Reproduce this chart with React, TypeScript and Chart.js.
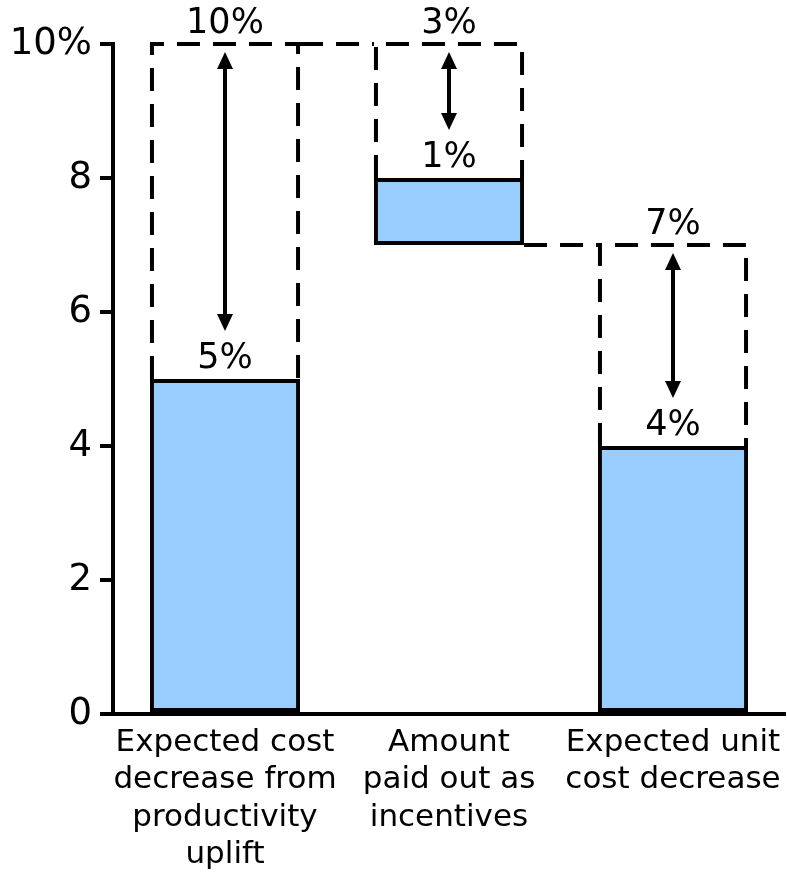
import React, { useEffect, useRef } from "react";
import { Chart, registerables } from "chart.js";

Chart.register(...registerables);

// Category labels (one entry per line)
const categories: string[][] = [
  ["Expected cost", "decrease from", "productivity", "uplift"],
  ["Amount", "paid out as", "incentives"],
  ["Expected unit", "cost decrease"],
];

// Solid bars: base and top values (%)
const barBase = [0, 7, 0];
const barTop = [5, 8, 4];
// Dashed outline top for each bar (%)
const boxTop = [10, 10, 7];
// Dashed connector levels between neighbouring bars
const connectorLevels = [10, 7];

const yTicks = [0, 2, 4, 6, 8, 10];

const FONT = "'DejaVu Sans', Verdana, sans-serif";
const FILL = "#99CCFF";
const LINE_W = 4;

const fmtPct = (v: number) => `${Math.round(v)}%`;

const overlayPlugin = {
  id: "waterfallOverlay",
  afterDatasetsDraw(chart: any) {
    const ctx: CanvasRenderingContext2D = chart.ctx;
    const y = chart.scales.y;
    const meta = chart.getDatasetMeta(0);
    const bars = meta.data;

    ctx.save();
    ctx.strokeStyle = "#000";
    ctx.fillStyle = "#000";
    ctx.lineWidth = LINE_W;
    ctx.lineCap = "butt";

    // Dashed outlines above each solid bar
    ctx.setLineDash([23, 13]);
    bars.forEach((bar: any, i: number) => {
      const left = bar.x - bar.width / 2 + LINE_W / 2;
      const right = bar.x + bar.width / 2 - LINE_W / 2;
      const yTopPx = y.getPixelForValue(boxTop[i]);
      const yBotPx = y.getPixelForValue(barTop[i]);
      ctx.beginPath();
      ctx.moveTo(left, yBotPx);
      ctx.lineTo(left, yTopPx);
      ctx.lineTo(right, yTopPx);
      ctx.lineTo(right, yBotPx);
      ctx.stroke();
    });

    // Dashed connectors between bars
    connectorLevels.forEach((lvl, i) => {
      const a = bars[i];
      const b = bars[i + 1];
      const py = y.getPixelForValue(lvl);
      ctx.beginPath();
      ctx.moveTo(a.x + a.width / 2, py);
      ctx.lineTo(b.x - b.width / 2, py);
      ctx.stroke();
    });
    ctx.setLineDash([]);

    // Double-headed arrows inside the dashed outlines
    const headLen = 17;
    const headHalf = 8;
    bars.forEach((bar: any, i: number) => {
      const x = bar.x;
      const y1 = y.getPixelForValue(boxTop[i]) + 8;
      const y2 = y.getPixelForValue(barTop[i]) - 48;
      ctx.beginPath();
      ctx.moveTo(x, y1 + headLen - 2);
      ctx.lineTo(x, y2 - headLen + 2);
      ctx.stroke();
      ctx.beginPath();
      ctx.moveTo(x, y1);
      ctx.lineTo(x - headHalf, y1 + headLen);
      ctx.lineTo(x + headHalf, y1 + headLen);
      ctx.closePath();
      ctx.fill();
      ctx.beginPath();
      ctx.moveTo(x, y2);
      ctx.lineTo(x - headHalf, y2 - headLen);
      ctx.lineTo(x + headHalf, y2 - headLen);
      ctx.closePath();
      ctx.fill();
    });

    // Value labels
    ctx.font = `35px ${FONT}`;
    ctx.textAlign = "center";
    ctx.textBaseline = "alphabetic";
    bars.forEach((bar: any, i: number) => {
      ctx.fillText(fmtPct(boxTop[i] - barBase[i]), bar.x, y.getPixelForValue(boxTop[i]) - 11);
      ctx.fillText(fmtPct(barTop[i] - barBase[i]), bar.x, y.getPixelForValue(barTop[i]) - 11);
    });

    ctx.restore();
  },
};

export default function App() {
  const canvasRef = useRef<HTMLCanvasElement | null>(null);

  useEffect(() => {
    if (!canvasRef.current) return;
    const chart = new Chart(canvasRef.current, {
      type: "bar",
      data: {
        labels: categories,
        datasets: [
          {
            data: barBase.map((b, i) => [b, barTop[i]]) as any,
            backgroundColor: FILL,
            borderColor: "#000",
            borderWidth: LINE_W,
            borderSkipped: false,
            barPercentage: 0.67,
            categoryPercentage: 1,
          },
        ],
      },
      options: {
        animation: false,
        responsive: true,
        maintainAspectRatio: false,
        layout: { padding: { top: 44, right: 2, bottom: 0, left: 0 } },
        plugins: {
          legend: { display: false },
          tooltip: { enabled: false },
        },
        scales: {
          x: {
            offset: true,
            grid: { display: true, drawOnChartArea: false, drawTicks: false },
            border: { display: true, color: "#000", width: LINE_W },
            ticks: {
              color: "#000",
              padding: 10,
              maxRotation: 0,
              autoSkip: false,
              font: { family: FONT, size: 31, lineHeight: 1.21 },
            },
            afterFit: (s: any) => {
              s.height = 163;
              s.paddingLeft = 0;
              s.paddingRight = 0;
            },
          },
          y: {
            min: 0,
            max: 10,
            afterBuildTicks: (s: any) => {
              s.ticks = yTicks.map((v) => ({ value: v }));
            },
            grid: {
              drawOnChartArea: false,
              drawTicks: true,
              tickLength: 13,
              color: "#000",
              lineWidth: LINE_W,
            },
            border: { display: true, color: "#000", width: LINE_W },
            ticks: {
              color: "#000",
              padding: 8,
              font: { family: FONT, size: 37 },
              callback: (v: any) => (Number(v) === 10 ? "10%" : String(v)),
            },
            afterFit: (s: any) => {
              s.width = 113;
            },
          },
        },
      },
      plugins: [overlayPlugin],
    });
    return () => chart.destroy();
  }, []);

  return (
    <div style={{ position: "fixed", left: 0, top: 0, width: 787, height: 877, background: "#fff" }}>
      <canvas ref={canvasRef} />
    </div>
  );
}
